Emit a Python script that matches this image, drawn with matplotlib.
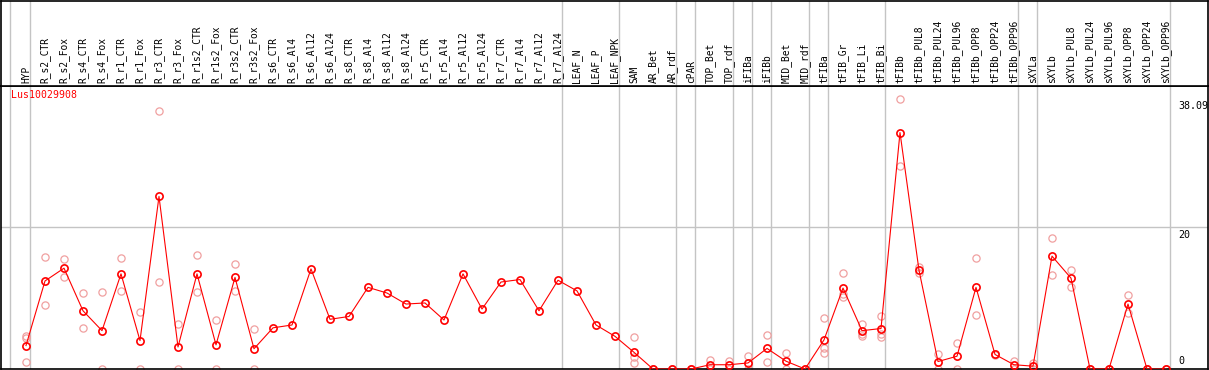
import matplotlib
matplotlib.use("Agg")
import matplotlib.pyplot as plt

gene = "Lus10029908"

samples = [
    "HYP", "R_s2_CTR", "R_s2_Fox", "R_s4_CTR", "R_s4_Fox", "R_r1_CTR", "R_r1_Fox",
    "R_r3_CTR", "R_r3_Fox", "R_r1s2_CTR", "R_r1s2_Fox", "R_r3s2_CTR", "R_r3s2_Fox",
    "R_s6_CTR", "R_s6_Al4", "R_s6_Al12", "R_s6_Al24", "R_s8_CTR", "R_s8_Al4",
    "R_s8_Al12", "R_s8_Al24", "R_r5_CTR", "R_r5_Al4", "R_r5_Al12", "R_r5_Al24",
    "R_r7_CTR", "R_r7_Al4", "R_r7_Al12", "R_r7_Al24", "LEAF_N", "LEAF_P", "LEAF_NPK",
    "SAM", "AR_Bet", "AR_rdf", "cPAR", "TOP_Bet", "TOP_rdf", "iFIBa", "iFIBb",
    "MID_Bet", "MID_rdf", "tFIBa", "tFIB_Gr", "tFIB_Li", "tFIB_Bi", "tFIBb",
    "tFIBb_PUL8", "tFIBb_PUL24", "tFIBb_PUL96", "tFIBb_OPP8", "tFIBb_OPP24",
    "tFIBb_OPP96", "sXYLa", "sXYLb", "sXYLb_PUL8", "sXYLb_PUL24", "sXYLb_PUL96",
    "sXYLb_OPP8", "sXYLb_OPP24", "sXYLb_OPP96",
]

means = [
    3.3, 12.4, 14.2, 8.2, 5.4, 13.4, 4.0, 24.3, 3.1, 13.4, 3.4, 12.9, 2.85,
    5.8, 6.2, 14.1, 7.0, 7.4, 11.5, 10.7, 9.15, 9.3, 6.9, 13.4, 8.45,
    12.25, 12.6, 8.2, 12.5, 11.0, 6.2, 4.6,
    2.35, 0, 0, 0, 0.6, 0.6, 0.85, 2.9, 1.1, 0,
    4.1, 11.4, 5.4, 5.7, 33.3, 13.9, 1.05, 1.8, 11.5, 2.05, 0.6,
    0.4, 15.9, 12.8, 0, 0, 9.15, 0, 0,
]

replicates = [
    [4.65, 4.3, 0.95], [15.8, 9.0], [15.5, 13.0], [10.7, 5.8], [10.85, 0],
    [15.6, 11.0], [8.0, 0], [36.3, 12.2], [6.3, 0], [16.1, 10.85], [6.9, 0],
    [14.8, 11.0], [5.6, 0],
    [], [], [], [], [], [], [], [], [], [], [], [], [], [], [], [], [], [], [],
    [4.45, 1.7, 0.9], [0, 0], [0, 0], [0, 0], [1.25, 0], [1.15, 0], [1.8, 0],
    [4.75, 0.95], [2.2, 0], [0, 0],
    [7.15, 2.9, 2.2], [13.5, 10.55, 10.1], [6.4, 4.95, 4.7], [7.45, 4.9, 4.55],
    [38.09, 28.6], [14.4, 13.5], [2.1, 0], [3.6, 0], [15.6, 7.55], [2.0, 2.1],
    [1.15, 0],
    [0.9, 0], [18.4, 13.3], [14.0, 11.5], [0, 0], [0, 0], [10.4, 7.85], [0, 0],
    [0, 0],
]

# group separators (in column units)
separators = [-0.84, 0.21, 28.21, 31.21, 34.21, 35.21, 37.21, 38.21, 39.21,
              41.21, 42.21, 45.21, 52.21, 53.21, 60.21]
y_ticks = [0, 20, 38.09]

W, H = 1209, 370
fig = plt.figure(figsize=(W / 100, H / 100), dpi=100)
fig.patch.set_facecolor("white")

x_lo = (1 - 26) / 19
x_hi = (1208 - 26) / 19
y_top = (369 - 86) / 7.1

ax = fig.add_axes([1 / W, 1 / H, 1207 / W, 283 / H])
head = fig.add_axes([1 / W, 284 / H, 1207 / W, 85.5 / H])

mono = "DejaVu Sans Mono"

for a in (ax, head):
    a.set_xlim(x_lo, x_hi)
    a.set_xticks([])
    a.set_yticks([])
    for s in a.spines.values():
        s.set_color("black")
        s.set_linewidth(1.2)
    for sx in separators:
        a.axvline(sx, color="#c4c4c4", lw=1.0, zorder=0)

head.set_ylim(0, 1)
for i, name in enumerate(samples):
    head.text(i, 0.03, name, rotation=90, ha="center", va="bottom",
              fontsize=6.9, family=mono, color="black")

ax.set_ylim(0, y_top)
ax.axhline(20, color="#c4c4c4", lw=1.0, zorder=0)

rx, ry = [], []
for i, reps in enumerate(replicates):
    for r in reps:
        rx.append(i)
        ry.append(r)
ax.plot(rx, ry, "o", ms=5.2, mfc="none", mec="#f0a0a0", mew=0.9, zorder=2)
ax.plot(range(len(means)), means, "-", color="red", lw=0.8, zorder=3)
ax.plot(range(len(means)), means, "o", ms=5.2, mfc="none", mec="red", mew=1.2,
        zorder=4)

lab_x = (1178 - 26) / 19
for t in y_ticks:
    txt = f"{t:g}"
    if t == 0:
        ax.text(lab_x, t + 0.4, txt, ha="left", va="bottom", fontsize=7.2, family=mono)
    else:
        ax.text(lab_x, t - 0.4, txt, ha="left", va="top", fontsize=7.2, family=mono)

ax.text(0.008, 0.985, gene, transform=ax.transAxes, ha="left", va="top",
        fontsize=7.1, family=mono, color="red")

fig.savefig("out.png", dpi=100)
